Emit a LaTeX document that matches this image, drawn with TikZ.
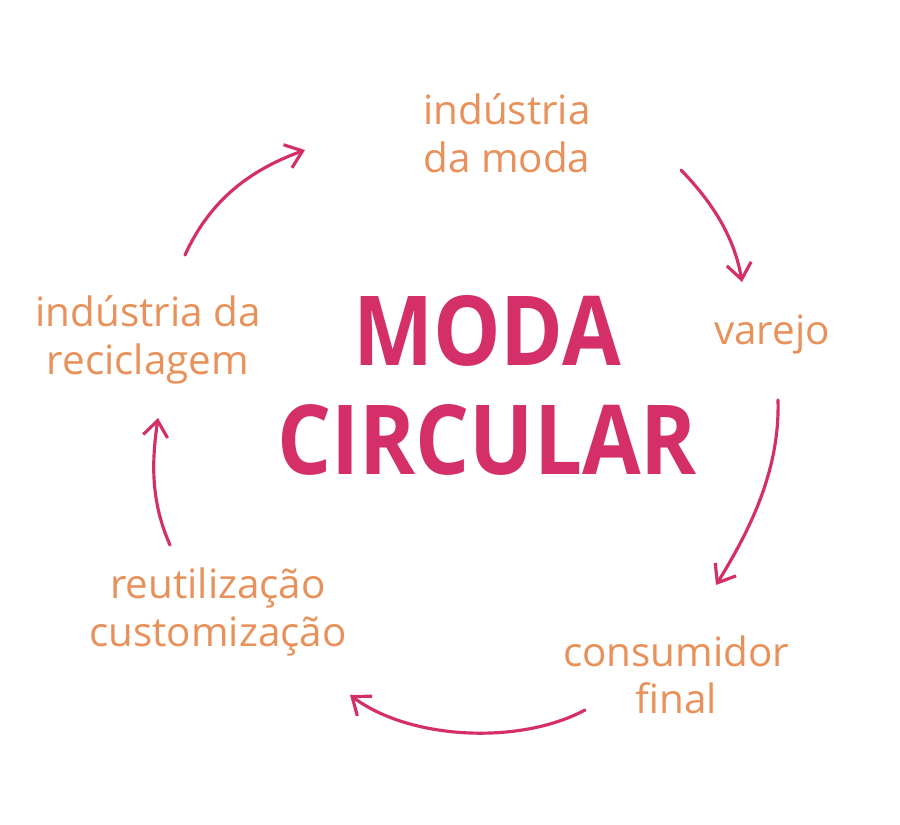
\documentclass[tikz,border=0pt]{standalone}
\usepackage{fontspec}
\setmainfont{Open Sans}
\usetikzlibrary{arrows.meta}
\definecolor{labelorange}{HTML}{E8915A}
\definecolor{modapink}{HTML}{D42F68}
\tikzset{
  stage/.style={text=labelorange, align=center, font=\fontsize{23}{27}\selectfont},
  loop arrow/.style={-{Straight Barb[length=9pt,width=14pt]}, draw=modapink, line width=1.8pt, line cap=round}
}
\begin{document}
\begin{tikzpicture}[x=0.02cm, y=-0.02cm]
    \useasboundingbox (0,0) rectangle (900,825);

    % Title
    \node (title) [text=modapink, align=center, xscale=0.88, font=\fontsize{55}{62}\selectfont\bfseries] at (487,385) {MODA\\CIRCULAR};

    % Stages
    \node (moda) [stage] at (507,133) {indústria\\da moda};
    \node (varejo) [stage] at (772,335) {varejo};
    \node (consumidor) [stage] at (676,675) {consumidor\\final};
    \node (reuso) [stage] at (218,612) {reutilização\\customização};
    \node (reciclagem) [stage] at (148,340) {indústria da\\reciclagem};

    % Arrow ends
    \coordinate (a1) at (185,255); \coordinate (b1) at (305,150);
    \coordinate (a2) at (681,170); \coordinate (b2) at (742,282);
    \coordinate (a3) at (778,400); \coordinate (b3) at (716,585);
    \coordinate (a4) at (585,710); \coordinate (b4) at (350,695);
    \coordinate (a5) at (170,545); \coordinate (b5) at (158,418);

    % Arrows
    \draw[loop arrow] (a1) .. controls (210,200) and (250,170) .. (b1);
    \draw[loop arrow] (a2) .. controls (715,205) and (735,240) .. (b2);
    \draw[loop arrow] (a3) .. controls (780,470) and (750,530) .. (b3);
    \draw[loop arrow] (a4) .. controls (520,745) and (410,740) .. (b4);
    \draw[loop arrow] (a5) .. controls (150,500) and (152,460) .. (b5);

\end{tikzpicture}
\end{document}
